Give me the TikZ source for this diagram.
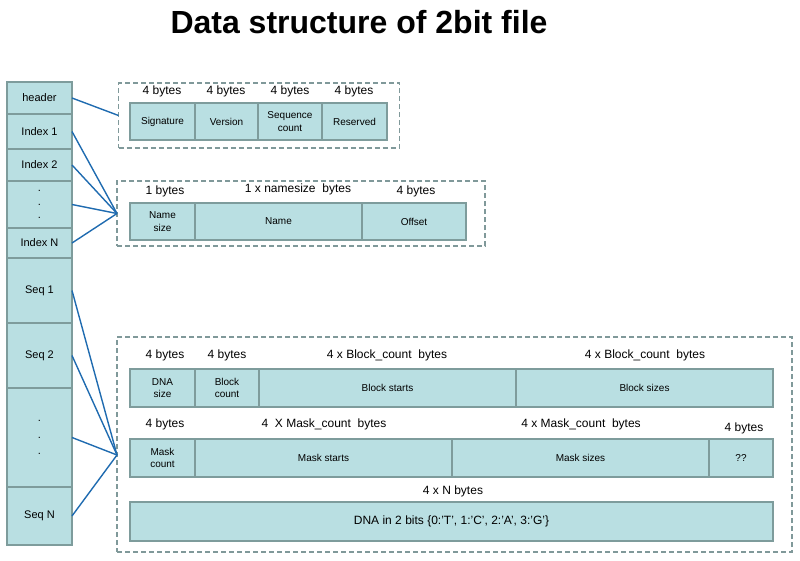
\documentclass[tikz,border=0pt]{standalone}
\usepackage{fontspec}
\setmainfont{Liberation Sans}
\begin{document}
\begin{tikzpicture}[x=1pt,y=-1pt,
  cellfill/.style={fill=cellc, draw=cellb, line width=1.8pt, inner sep=0pt, outer sep=0pt, align=center, font=\fontsize{10}{12.5}\selectfont},
  colcell/.style={cellfill, minimum width=65, font=\fontsize{11}{13}\selectfont},
  dbox/.style={draw=dashc, line width=1.4pt, dash pattern=on 5pt off 3pt, inner sep=0pt, outer sep=0pt},
  lbl/.style={font=\fontsize{12}{14}\selectfont, inner sep=0pt},
  link/.style={draw=linkc, line width=1.4pt}
]
\definecolor{cellc}{HTML}{B9DFE2}
\definecolor{cellb}{HTML}{7E9C9C}
\definecolor{dashc}{HTML}{80999A}
\definecolor{linkc}{HTML}{1F6BB0}
\useasboundingbox (0,0) rectangle (800,560);

% title
\node[font=\bfseries\fontsize{32}{36}\selectfont, inner sep=0pt] (title) at (359,22) {Data structure of 2bit file};

% left column
\node[colcell, minimum height=32] (hdr) at (39.5,98) {header};
\node[colcell, minimum height=35] (ix1) at (39.5,131.5) {Index 1};
\node[colcell, minimum height=32] (ix2) at (39.5,165) {Index 2};
\node[colcell, minimum height=47, font=\fontsize{11}{13.5}\selectfont] (ixd) at (39.5,204.5) {.\\.\\.};
\node[colcell, minimum height=30] (ixn) at (39.5,243) {Index N};
\node[colcell, minimum height=65] (sq1) at (39.5,290.5) {Seq 1};
\node[colcell, minimum height=65] (sq2) at (39.5,355.5) {Seq 2};
\node[colcell, minimum height=99, font=\fontsize{11}{16.5}\selectfont] (sqd) at (39.5,437.5) {.\\.\\.};
\node[colcell, minimum height=58] (sqn) at (39.5,516) {Seq N};

% header box
\node[dbox, minimum width=281, minimum height=65] (hdrbox) at (259,115.5) {};
\node[cellfill, minimum width=65, minimum height=37] (sig) at (162.5,121.5) {Signature};
\node[cellfill, minimum width=63, minimum height=37] (ver) at (226.5,121.5) {Version};
\node[cellfill, minimum width=64, minimum height=37] (cnt) at (290,121.5) {Sequence\\count};
\node[cellfill, minimum width=65, minimum height=37] (res) at (354.5,121.5) {Reserved};
\node[lbl] (l1) at (162,91) {4 bytes};
\node[lbl] (l2) at (226,91) {4 bytes};
\node[lbl] (l3) at (290,91) {4 bytes};
\node[lbl] (l4) at (354,91) {4 bytes};

% index box
\node[dbox, minimum width=368, minimum height=65] (idxbox) at (301,213.5) {};
\node[cellfill, minimum width=65, minimum height=37] (nsz) at (162.5,221.5) {Name\\size};
\node[cellfill, minimum width=167, minimum height=37] (nam) at (278.5,221.5) {Name};
\node[cellfill, minimum width=104, minimum height=37] (off) at (414,221.5) {Offset};
\node[lbl] (l5) at (165,191) {1 bytes};
\node[lbl] (l6) at (298,189) {1 x namesize\ \ bytes};
\node[lbl] (l7) at (416,191) {4 bytes};

% sequence box
\node[dbox, minimum width=675, minimum height=215] (seqbox) at (454.5,444.5) {};
\node[cellfill, minimum width=65, minimum height=38] (dsz) at (162.5,388) {DNA\\size};
\node[cellfill, minimum width=64, minimum height=38] (bct) at (227,388) {Block\\count};
\node[cellfill, minimum width=257, minimum height=38] (bst) at (387.5,388) {Block starts};
\node[cellfill, minimum width=257, minimum height=38] (bsz) at (644.5,388) {Block sizes};
\node[lbl] (l8) at (165,355) {4 bytes};
\node[lbl] (l9) at (227,355) {4 bytes};
\node[lbl] (l10) at (387,355) {4 x Block\_count\ \ bytes};
\node[lbl] (l11) at (645,355) {4 x Block\_count\ \ bytes};

\node[cellfill, minimum width=65, minimum height=38] (mct) at (162.5,458) {Mask\\count};
\node[cellfill, minimum width=257, minimum height=38] (mst) at (323.5,458) {Mask starts};
\node[cellfill, minimum width=257, minimum height=38] (msz) at (580.5,458) {Mask sizes};
\node[cellfill, minimum width=64, minimum height=38] (qq) at (741,458) {??};
\node[lbl] (l12) at (165,424) {4 bytes};
\node[lbl] (l13) at (324,424) {4\ \ X Mask\_count\ \ bytes};
\node[lbl] (l14) at (581,424) {4 x Mask\_count\ \ bytes};
\node[lbl] (l15) at (744,428) {4 bytes};

\node[lbl] (l16) at (453,491) {4 x N bytes};
\node[cellfill, minimum width=643, minimum height=39, font=\fontsize{12}{14}\selectfont] (dna) at (451.5,521.5) {DNA in 2 bits \{0:'T', 1:'C', 2:'A', 3:'G'\}};

% connectors
\coordinate (seqin) at (117,455);
\draw[link] (hdr.east) -- (hdrbox.west);
\draw[link] (ix1.east) -- (idxbox.west);
\draw[link] (ix2.east) -- (idxbox.west);
\draw[link] (ixd.east) -- (idxbox.west);
\draw[link] (ixn.east) -- (idxbox.west);
\draw[link] (sq1.east) -- (seqin);
\draw[link] (sq2.east) -- (seqin);
\draw[link] (sqd.east) -- (seqin);
\draw[link] (sqn.east) -- (seqin);
\end{tikzpicture}
\end{document}
